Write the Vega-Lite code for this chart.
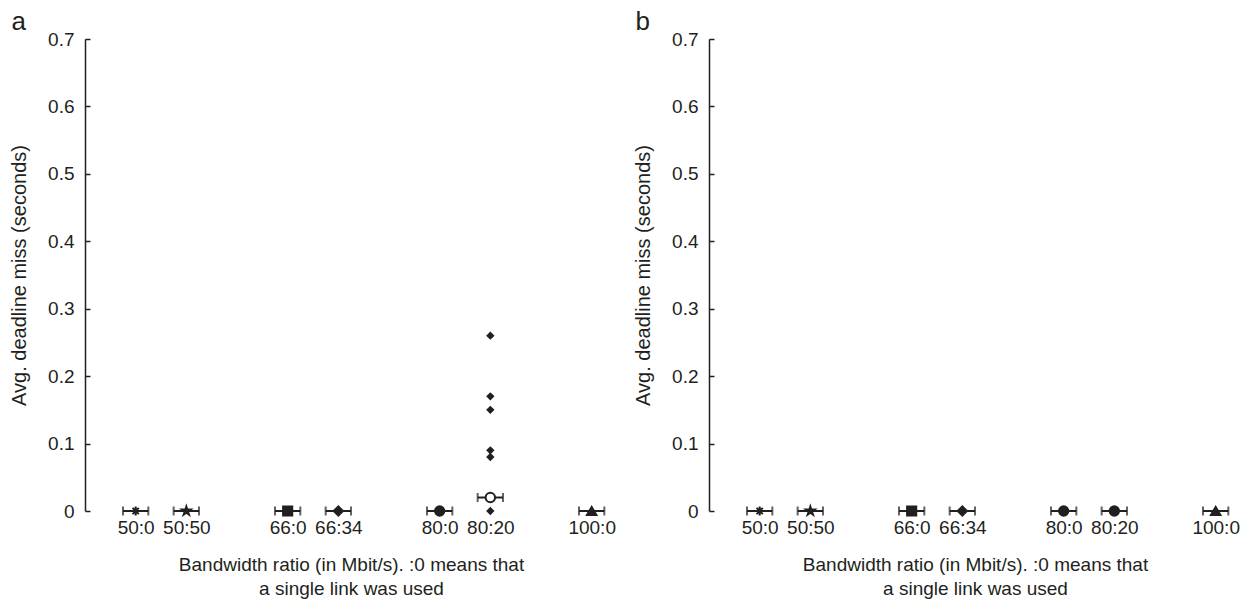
{
  "$schema": "https://vega.github.io/schema/vega-lite/v6.json",
  "background": "white",
  "padding": {"left": 9, "top": 9, "right": 5, "bottom": 5},
  "bounds": "flush",
  "spacing": 92,
  "config": {
    "view": {"stroke": null},
    "font": "Liberation Sans",
    "title": {"font": "Liberation Sans", "fontSize": 26, "fontWeight": "normal", "color": "#231f20", "anchor": "start", "frame": "bounds", "offset": -5, "dx": 2},
    "axis": {
      "grid": false,
      "labelFont": "Liberation Sans",
      "titleFont": "Liberation Sans",
      "labelFontSize": 19,
      "titleFontSize": 20,
      "titleFontWeight": "normal",
      "labelColor": "#231f20",
      "titleColor": "#231f20",
      "domainColor": "#231f20",
      "tickColor": "#231f20"
    },
    "axisX": {"titleFontSize": 19}
  },
  "datasets": {
    "runs": [
      {"panel": "a", "ratio": "50:0", "x": 1, "xlo": 0.75, "xhi": 1.25, "miss": 0, "kind": "summary"},
      {"panel": "a", "ratio": "50:50", "x": 2, "xlo": 1.75, "xhi": 2.25, "miss": 0, "kind": "summary"},
      {"panel": "a", "ratio": "66:0", "x": 4, "xlo": 3.75, "xhi": 4.25, "miss": 0, "kind": "summary"},
      {"panel": "a", "ratio": "66:34", "x": 5, "xlo": 4.75, "xhi": 5.25, "miss": 0, "kind": "summary"},
      {"panel": "a", "ratio": "80:0", "x": 7, "xlo": 6.75, "xhi": 7.25, "miss": 0, "kind": "summary"},
      {"panel": "a", "ratio": "80:20", "x": 8, "xlo": 7.75, "xhi": 8.25, "miss": 0.02, "kind": "summary"},
      {"panel": "a", "ratio": "100:0", "x": 10, "xlo": 9.75, "xhi": 10.25, "miss": 0, "kind": "summary"},
      {"panel": "a", "ratio": "80:20", "x": 8, "miss": 0, "kind": "trial"},
      {"panel": "a", "ratio": "80:20", "x": 8, "miss": 0.08, "kind": "trial"},
      {"panel": "a", "ratio": "80:20", "x": 8, "miss": 0.09, "kind": "trial"},
      {"panel": "a", "ratio": "80:20", "x": 8, "miss": 0.15, "kind": "trial"},
      {"panel": "a", "ratio": "80:20", "x": 8, "miss": 0.17, "kind": "trial"},
      {"panel": "a", "ratio": "80:20", "x": 8, "miss": 0.26, "kind": "trial"},
      {"panel": "b", "ratio": "50:0", "x": 1, "xlo": 0.75, "xhi": 1.25, "miss": 0, "kind": "summary"},
      {"panel": "b", "ratio": "50:50", "x": 2, "xlo": 1.75, "xhi": 2.25, "miss": 0, "kind": "summary"},
      {"panel": "b", "ratio": "66:0", "x": 4, "xlo": 3.75, "xhi": 4.25, "miss": 0, "kind": "summary"},
      {"panel": "b", "ratio": "66:34", "x": 5, "xlo": 4.75, "xhi": 5.25, "miss": 0, "kind": "summary"},
      {"panel": "b", "ratio": "80:0", "x": 7, "xlo": 6.75, "xhi": 7.25, "miss": 0, "kind": "summary"},
      {"panel": "b", "ratio": "80:20", "x": 8, "xlo": 7.75, "xhi": 8.25, "miss": 0, "kind": "summary"},
      {"panel": "b", "ratio": "100:0", "x": 10, "xlo": 9.75, "xhi": 10.25, "miss": 0, "kind": "summary"}
    ]
  },
  "hconcat": [
    {
      "title": {"text": "a"},
      "width": 532,
      "height": 472,
      "data": {"name": "runs"},
      "transform": [{"filter": "datum.panel === 'a'"}],
      "encoding": {
        "x": {
          "field": "x", "type": "quantitative",
          "scale": {"domain": [0, 10.5], "nice": false, "zero": false},
          "axis": {
            "values": [1, 2, 4, 5, 7, 8, 10],
            "labelExpr": "datum.value == 1 ? '50:0' : datum.value == 2 ? '50:50' : datum.value == 4 ? '66:0' : datum.value == 5 ? '66:34' : datum.value == 7 ? '80:0' : datum.value == 8 ? '80:20' : '100:0'",
            "domain": false, "ticks": false, "labelPadding": 7, "labelFlush": false, "labelOverlap": false,
            "title": ["Bandwidth ratio (in Mbit/s). :0 means that", "a single link was used"],
            "titlePadding": 18, "titleLineHeight": 24
          }
        },
        "y": {
          "field": "miss", "type": "quantitative",
          "scale": {"domain": [0, 0.7], "nice": false},
          "axis": {
            "values": [0, 0.1, 0.2, 0.3, 0.4, 0.5, 0.6, 0.7], "format": ".1~f",
            "title": "Avg. deadline miss (seconds)",
            "domainWidth": 1.5, "tickWidth": 1.5, "tickSize": -5, "labelPadding": 16, "titlePadding": 18
          }
        }
      },
      "layer": [
        {
          "transform": [{"filter": "datum.kind === 'summary'"}],
          "mark": {"type": "rule", "color": "#231f20", "strokeWidth": 2},
          "encoding": {"x": {"field": "xlo", "type": "quantitative"}, "x2": {"field": "xhi"}}
        },
        {
          "transform": [{"filter": "datum.kind === 'summary'"}, {"fold": ["xlo", "xhi"], "as": ["end", "xend"]}],
          "mark": {"type": "tick", "orient": "vertical", "color": "#231f20", "thickness": 2, "size": 9},
          "encoding": {"x": {"field": "xend", "type": "quantitative"}}
        },
        {
          "transform": [{"filter": "datum.kind === 'trial'"}],
          "mark": {"type": "point", "shape": "diamond", "filled": true, "color": "#231f20", "size": 70, "opacity": 1}
        },
        {
          "transform": [{"filter": "datum.kind === 'summary'"}],
          "mark": {"type": "point", "fill": "#231f20", "stroke": "#231f20", "strokeWidth": 2, "opacity": 1},
          "encoding": {
            "shape": {
              "field": "ratio", "type": "nominal", "legend": null,
              "scale": {
                "domain": ["50:0", "50:50", "66:0", "66:34", "80:0", "80:20", "100:0"],
                "range": ["M-1,0H1M0,-1V1M-0.7,-0.7L0.7,0.7M-0.7,0.7L0.7,-0.7", "M0,-1L0.2245,-0.309L0.951,-0.309L0.363,0.118L0.588,0.809L0,0.382L-0.588,0.809L-0.363,0.118L-0.951,-0.309L-0.2245,-0.309Z", "square", "diamond", "circle", "circle", "triangle-up"]
              }
            },
            "size": {
              "field": "ratio", "type": "nominal", "legend": null,
              "scale": {
                "domain": ["50:0", "50:50", "66:0", "66:34", "80:0", "80:20", "100:0"],
                "range": [80, 90, 70, 70, 70, 30, 70]
              }
            },
            "fill": {"condition": {"test": "datum.ratio === '80:20'", "value": "white"}, "value": "#231f20"}
          }
        }
      ]
    },
    {
      "title": {"text": "b"},
      "width": 532,
      "height": 472,
      "data": {"name": "runs"},
      "transform": [{"filter": "datum.panel === 'b'"}],
      "encoding": {
        "x": {
          "field": "x", "type": "quantitative",
          "scale": {"domain": [0, 10.5], "nice": false, "zero": false},
          "axis": {
            "values": [1, 2, 4, 5, 7, 8, 10],
            "labelExpr": "datum.value == 1 ? '50:0' : datum.value == 2 ? '50:50' : datum.value == 4 ? '66:0' : datum.value == 5 ? '66:34' : datum.value == 7 ? '80:0' : datum.value == 8 ? '80:20' : '100:0'",
            "domain": false, "ticks": false, "labelPadding": 7, "labelFlush": false, "labelOverlap": false,
            "title": ["Bandwidth ratio (in Mbit/s). :0 means that", "a single link was used"],
            "titlePadding": 18, "titleLineHeight": 24
          }
        },
        "y": {
          "field": "miss", "type": "quantitative",
          "scale": {"domain": [0, 0.7], "nice": false},
          "axis": {
            "values": [0, 0.1, 0.2, 0.3, 0.4, 0.5, 0.6, 0.7], "format": ".1~f",
            "title": "Avg. deadline miss (seconds)",
            "domainWidth": 1.5, "tickWidth": 1.5, "tickSize": -5, "labelPadding": 16, "titlePadding": 18
          }
        }
      },
      "layer": [
        {
          "mark": {"type": "rule", "color": "#231f20", "strokeWidth": 2},
          "encoding": {"x": {"field": "xlo", "type": "quantitative"}, "x2": {"field": "xhi"}}
        },
        {
          "transform": [{"fold": ["xlo", "xhi"], "as": ["end", "xend"]}],
          "mark": {"type": "tick", "orient": "vertical", "color": "#231f20", "thickness": 2, "size": 9},
          "encoding": {"x": {"field": "xend", "type": "quantitative"}}
        },
        {
          "mark": {"type": "point", "fill": "#231f20", "stroke": "#231f20", "strokeWidth": 2, "opacity": 1},
          "encoding": {
            "shape": {
              "field": "ratio", "type": "nominal", "legend": null,
              "scale": {
                "domain": ["50:0", "50:50", "66:0", "66:34", "80:0", "80:20", "100:0"],
                "range": ["M-1,0H1M0,-1V1M-0.7,-0.7L0.7,0.7M-0.7,0.7L0.7,-0.7", "M0,-1L0.2245,-0.309L0.951,-0.309L0.363,0.118L0.588,0.809L0,0.382L-0.588,0.809L-0.363,0.118L-0.951,-0.309L-0.2245,-0.309Z", "square", "diamond", "circle", "circle", "triangle-up"]
              }
            },
            "size": {
              "field": "ratio", "type": "nominal", "legend": null,
              "scale": {
                "domain": ["50:0", "50:50", "66:0", "66:34", "80:0", "80:20", "100:0"],
                "range": [80, 90, 70, 70, 70, 70, 70]
              }
            }
          }
        }
      ]
    }
  ]
}
